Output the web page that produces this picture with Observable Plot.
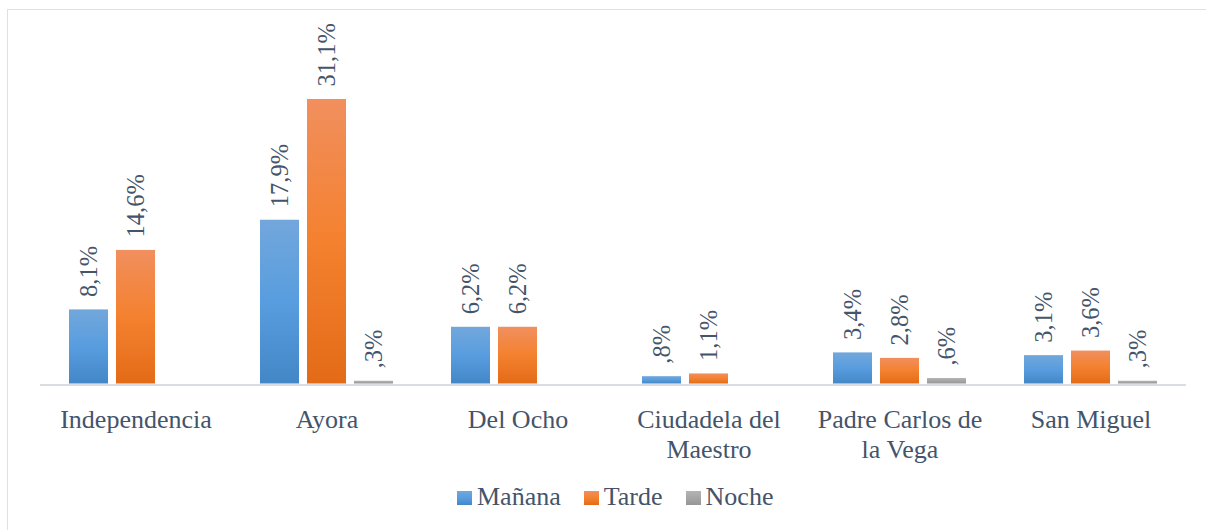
<!DOCTYPE html>
<html>
<head>
<meta charset="utf-8">
<script src="https://cdn.jsdelivr.net/npm/d3@7"></script>
<script src="https://cdn.jsdelivr.net/npm/@observablehq/plot@0.6"></script>
<style>
  html, body { margin: 0; padding: 0; background: #fff; }
  #wrap { position: relative; width: 1206px; height: 530px; overflow: hidden; }
  #frame { position: absolute; left: 7px; top: 9px; width: 1220px; height: 540px; border: 1.5px solid #dde1e6; box-sizing: border-box; }
  #chart { position: absolute; left: 0; top: 0; }
  #legend { position: absolute; left: 457px; top: 482px; display: flex; align-items: center; font-size: 26px; color: #44546a; }
  .item { display: flex; align-items: center; margin-right: 23px; }
  .sw { width: 15px; height: 14px; margin-right: 5px; margin-top: 2px; }
</style>
</head>
<body>
<div id="wrap" style="font-family:'Liberation Serif'">
  <div id="frame"></div>
  <div id="chart"></div>
  <div id="legend" style="font-family:'Liberation Serif'"></div>
</div>
<script>
const categories = ["Independencia", "Ayora", "Del Ocho", "Ciudadela del Maestro", "Padre Carlos de la Vega", "San Miguel"];
const categoryLabels = ["Independencia", "Ayora", "Del Ocho", "Ciudadela del\nMaestro", "Padre Carlos de\nla Vega", "San Miguel"];
const series = ["Mañana", "Tarde", "Noche"];
const manana = [8.1, 17.9, 6.2, 0.8, 3.4, 3.1];
const tarde = [14.6, 31.1, 6.2, 1.1, 2.8, 3.6];
const noche = [null, 0.3, null, null, 0.6, 0.3];

const gradients = {
  "Mañana": {id: "gBlue", stops: ["#72a7db", "#589ddf", "#4487c7"]},
  "Tarde": {id: "gOrange", stops: ["#f18f5e", "#f4812f", "#e36b17"]},
  "Noche": {id: "gGray", stops: ["#b3b3b3", "#a6a6a6", "#969696"]}
};

const seriesValues = {"Mañana": manana, "Tarde": tarde, "Noche": noche};
const rows = [];
for (const s of series) {
  categories.forEach((c, i) => {
    const v = seriesValues[s][i];
    if (v != null) rows.push({cat: c, series: s, value: v});
  });
}

const fmt = v => v.toFixed(1).replace(".", ",").replace(/^0/, "") + "%";
const textColor = "#44546a";
const serif = "Liberation Serif";

const barMarks = series.map(s => Plot.barY(rows.filter(r => r.series === s), {
  fx: "cat", x: "series", y: "value", fill: `url(#${gradients[s].id})`
}));

const chart = Plot.plot({
  width: 1206,
  height: 470,
  marginLeft: 38,
  marginRight: 18,
  marginTop: 63.3,
  marginBottom: 86.5,
  style: {background: "transparent"},
  fx: {domain: categories, padding: 0, axis: null},
  x: {domain: series, paddingInner: 1 / 6, paddingOuter: 0.58, axis: null},
  y: {domain: [0, 35], axis: null},
  marks: [
    ...barMarks,
    Plot.ruleY([0], {stroke: "#d9dce1", strokeWidth: 2, dy: 1}),
    Plot.text(rows, {
      fx: "cat", x: "series", y: "value", text: d => fmt(d.value),
      rotate: -90, textAnchor: "start", lineAnchor: "middle", dy: -13,
      fontSize: 24.5, fill: textColor
    }),
    Plot.axisFx({
      anchor: "bottom", tickSize: 0, tickPadding: 23, fontSize: 26, lineHeight: 1.15,
      color: textColor, label: null,
      tickFormat: d => categoryLabels[categories.indexOf(d)]
    })
  ]
});

// font on every text node
chart.setAttribute("font-family", serif);
chart.style.setProperty("font-family", "'Liberation Serif'", "important");
chart.querySelectorAll("text, g").forEach(el => {
  el.setAttribute("font-family", serif);
  el.style.setProperty("font-family", "'Liberation Serif'", "important");
});

// gradient definitions
const svg = d3.select(chart);
const defs = svg.insert("defs", ":first-child");
for (const s of series) {
  const g = gradients[s];
  const lg = defs.append("linearGradient").attr("id", g.id).attr("x1", 0).attr("y1", 0).attr("x2", 0).attr("y2", 1);
  lg.append("stop").attr("offset", "0%").attr("stop-color", g.stops[0]);
  lg.append("stop").attr("offset", "50%").attr("stop-color", g.stops[1]);
  lg.append("stop").attr("offset", "100%").attr("stop-color", g.stops[2]);
}

document.getElementById("chart").appendChild(chart);

// legend
const legend = d3.select("#legend");
for (const s of series) {
  const it = legend.append("div").attr("class", "item");
  it.append("div").attr("class", "sw").style("background", `linear-gradient(${gradients[s].stops.join(",")})`);
  it.append("span").style("font-family", "'Liberation Serif'", "important").text(s);
}
</script>
</body>
</html>
